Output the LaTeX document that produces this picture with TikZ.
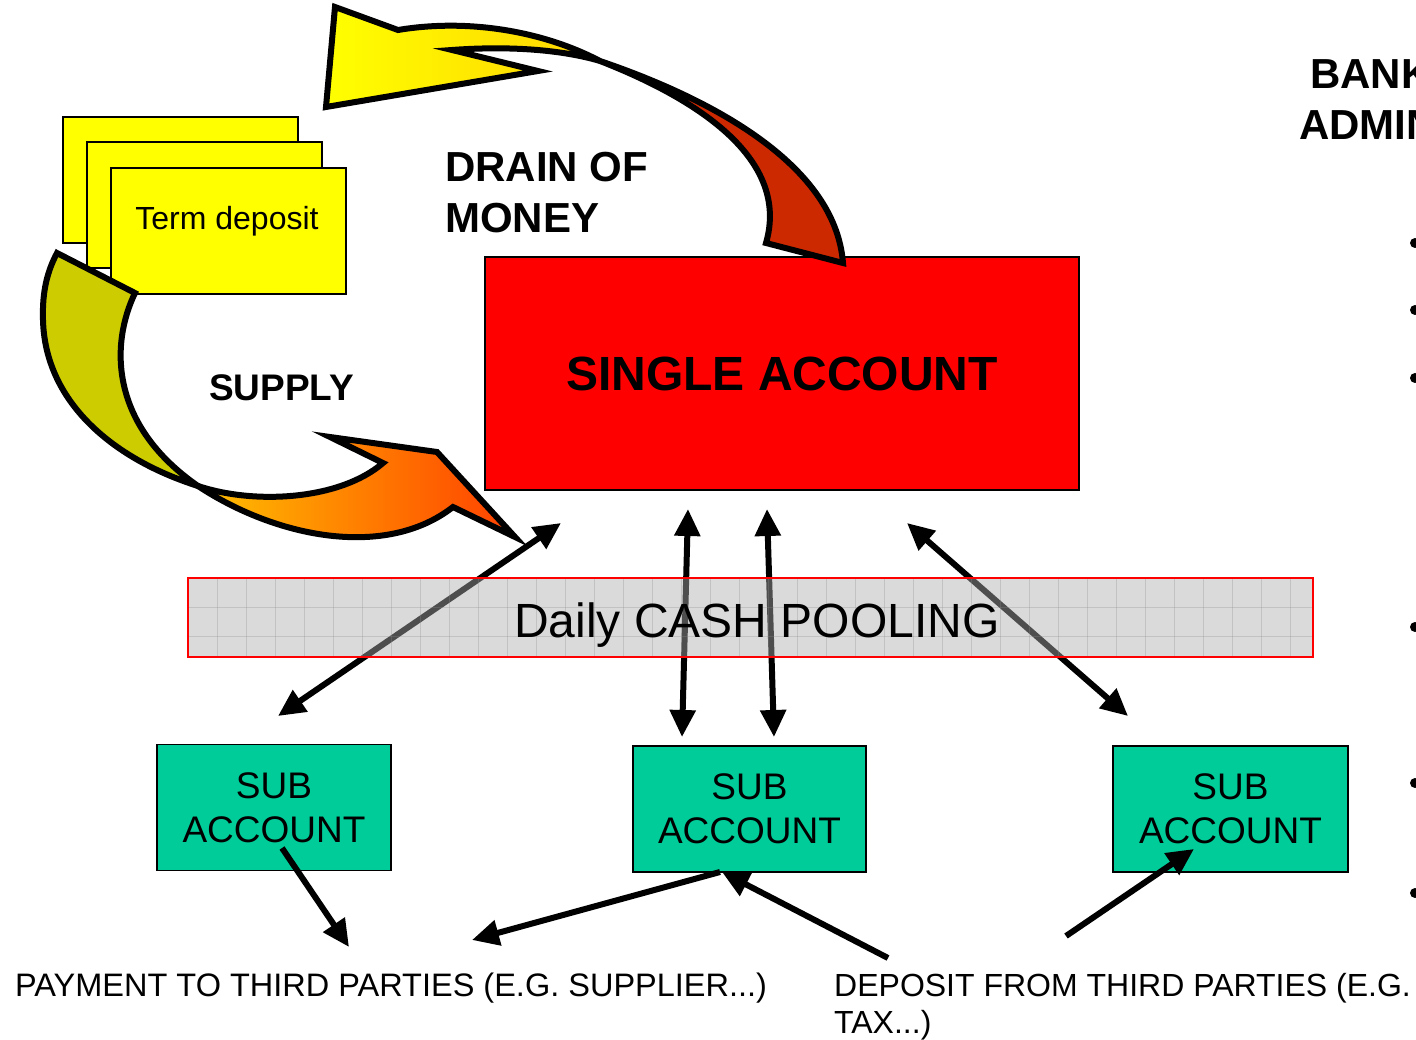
\documentclass[tikz,border=0pt]{standalone}
\usepackage{fontspec}
\setmainfont{Liberation Sans}
\usetikzlibrary{arrows.meta}
\definecolor{termyellow}{RGB}{255,255,0}
\definecolor{acctred}{RGB}{255,0,0}
\definecolor{subteal}{RGB}{0,204,153}
\definecolor{drainred}{RGB}{204,41,0}
\definecolor{oliveback}{RGB}{204,204,0}
\definecolor{bandgray}{RGB}{173,173,173}
\definecolor{gridgray}{RGB}{140,140,140}
\definecolor{goldend}{RGB}{255,212,0}
\definecolor{orangeA}{RGB}{255,192,0}
\definecolor{orangeB}{RGB}{255,64,0}
\tikzset{
  termbox/.style={draw=black, line width=1.5pt, fill=termyellow, minimum width=235pt, minimum height=126pt, inner sep=0pt},
  subbox/.style={draw=black, line width=1.8pt, fill=subteal, minimum width=234pt, minimum height=126pt, inner sep=0pt, align=center, font=\fontsize{37}{44}\selectfont},
  flowarrow/.style={line width=6pt, -{Triangle[length=27pt,width=25pt]}},
  dblarrow/.style={line width=6pt, {Triangle[length=27pt,width=25pt]}-{Triangle[length=27pt,width=25pt]}},
  ribbon/.style={draw=black, line width=6pt, line join=miter},
  boldtxt/.style={anchor=base west, inner sep=0pt, font=\bfseries\fontsize{#1}{#1}\selectfont},
  plaintxt/.style={anchor=base west, inner sep=0pt, font=\fontsize{#1}{#1}\selectfont},
  bulletdot/.style={fill=black}
}
\begin{document}
\begin{tikzpicture}[x=1pt,y=-1pt]
\useasboundingbox (0,0) rectangle (1416,1040);
\clip (0,0) rectangle (1416,1040);
\fill[white] (0,0) rectangle (1416,1040);

% term deposit stack
\node[termbox] (td1) at (180.5,180) {};
\node[termbox] (td2) at (204.5,205) {};
\node[termbox] (td3) at (228.5,231) {};
\node[anchor=base, inner sep=0pt, font=\fontsize{32}{38}\selectfont] (tdtext) at (227,230) {Term deposit};

% supply arrow (back part)
\path[ribbon, fill=oliveback]
  (57,253) -- (135,293) .. controls (110,345) and (110,425) .. (198,486)
  .. controls (110,458) and (45,400) .. (43,320)
  .. controls (42,290) and (48,270) .. (57,253) -- cycle;
% supply arrow (front part)
\path[ribbon, left color=orangeA, right color=orangeB]
  (198,486) .. controls (275,537) and (385,560) .. (453,507)
  -- (515,537) -- (437,452) -- (330,437) -- (383,463)
  .. controls (340,500) and (255,505) .. (198,486) -- cycle;

% single account
\node[draw=black, line width=1.5pt, fill=acctred, minimum width=594pt, minimum height=233pt, inner sep=0pt,
      font=\bfseries\fontsize{48}{58}\selectfont] (single) at (782,373.5) {SINGLE ACCOUNT};

% drain arrow (back part)
\path[ribbon, fill=drainred]
  (600,61) .. controls (700,95) and (835,160) .. (843,263)
  -- (766,243) .. controls (790,160) and (700,100) .. (600,61) -- cycle;
% drain arrow (front part)
\path[ribbon, left color=termyellow, right color=goldend]
  (335,7) -- (398,30) .. controls (470,18) and (545,32) .. (600,61)
  .. controls (570,52) and (520,45) .. (452,50)
  -- (538,71) -- (326,107) -- cycle;

% labels
\node[boldtxt=42] (drain1) at (445,182) {DRAIN OF};
\node[boldtxt=42] (drain2) at (445,233) {MONEY};
\node[boldtxt=37] (supply) at (209,400) {SUPPLY};
\node[boldtxt=42] (bank1) at (1310,89) {BANK};
\node[boldtxt=42] (bank2) at (1299,140) {ADMIN};

% bullets at right edge
\foreach \yy [count=\k] in {243,310,378,627,783,893} {
  \node[circle, bulletdot, inner sep=0pt, minimum size=10pt] (bul\k) at (1415,\yy) {};
}

% sub accounts
\node[subbox] (sub1) at (274,807.5) {SUB\\ACCOUNT};
\node[subbox, minimum width=233pt] (sub2) at (749.5,809) {SUB\\ACCOUNT};
\node[subbox, minimum width=235pt] (sub3) at (1230.5,809) {SUB\\ACCOUNT};

% arrow end points
\coordinate (d1a) at (278,716);  \coordinate (d1b) at (561,523);
\coordinate (d2a) at (682,737);  \coordinate (d2b) at (688,509);
\coordinate (d3a) at (774,737);  \coordinate (d3b) at (767,509);
\coordinate (d4a) at (1128,716); \coordinate (d4b) at (907,523);
\coordinate (f1a) at (282,848);  \coordinate (f1b) at (349,947);
\coordinate (f2a) at (720,872);  \coordinate (f2b) at (472,940);
\coordinate (f3a) at (888,958);  \coordinate (f3b) at (722,872);
\coordinate (f4a) at (1066,936); \coordinate (f4b) at (1194,849);

\draw[dblarrow] (d1a) -- (d1b);
\draw[dblarrow] (d2a) -- (d2b);
\draw[dblarrow] (d3a) -- (d3b);
\draw[dblarrow] (d4a) -- (d4b);
\draw[flowarrow] (f1a) -- (f1b);
\draw[flowarrow] (f2a) -- (f2b);
\draw[flowarrow] (f3a) -- (f3b);
\draw[flowarrow] (f4a) -- (f4b);

% daily cash pooling band (translucent over the arrows)
\node[fill=bandgray, fill opacity=0.45, minimum width=1125pt, minimum height=79pt, inner sep=0pt] (band) at (750.5,617.5) {};
\foreach \i in {1,...,38} {
  \draw[gridgray, opacity=0.3, line width=1pt] (188+29*\i,578) -- (188+29*\i,657);
}
\draw[gridgray, opacity=0.3, line width=1pt] (188,607) -- (1313,607);
\draw[gridgray, opacity=0.3, line width=1pt] (188,636) -- (1313,636);
\draw[acctred, line width=2pt] (band.north west) rectangle (band.south east);
\node[anchor=base, inner sep=0pt, font=\fontsize{48}{58}\selectfont] (bandtext) at (757,637) {Daily CASH POOLING};

% bottom texts
\node[plaintxt=32.5] (pay) at (15,996) {PAYMENT TO THIRD PARTIES (E.G. SUPPLIER...)};
\node[plaintxt=32] (dep1) at (834,996) {DEPOSIT FROM THIRD PARTIES (E.G.};
\node[plaintxt=32] (dep2) at (834,1033) {TAX...)};
\end{tikzpicture}
\end{document}
